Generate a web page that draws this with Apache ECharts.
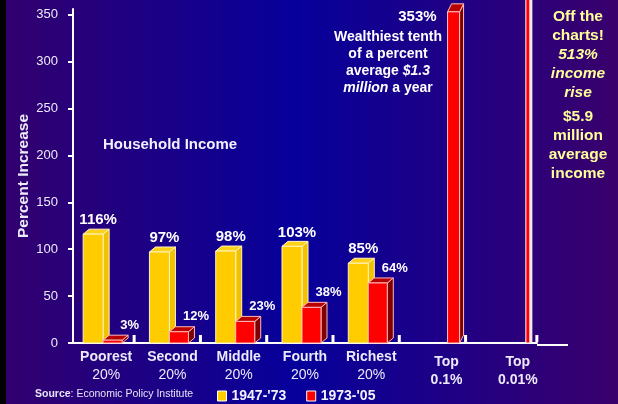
<!DOCTYPE html>
<html><head><meta charset="utf-8">
<script src="https://cdn.jsdelivr.net/npm/echarts@6/dist/echarts.min.js"></script>
<style>html,body{margin:0;padding:0;background:#000;}#c{width:618px;height:404px;}</style>
</head><body><div id="c"></div>
<script>
// ---- data ----
const categories = ['Poorest', 'Second', 'Middle', 'Fourth', 'Richest', 'Top', 'Top'];
const subLabels = ['20%', '20%', '20%', '20%', '20%', '0.1%', '0.01%'];
const seriesNames = ["1947-'73", "1973-'05"];
const values1947 = [116, 97, 98, 103, 85, null, null];
const values1973 = [3, 12, 23, 38, 64, 353, 513];
const yTicks = [0, 50, 100, 150, 200, 250, 300, 350];

const FONT = '"Liberation Sans", Arial, Helvetica, sans-serif';
const TXT = '#ECEAFA';
const chart = echarts.init(document.getElementById('c'), null, {renderer: 'canvas'});

function box3d(x0, x1, yTop, yBot, dx, dy, col, stroke, noTop) {
  const els = [];
  els.push({type: 'polygon', shape: {points: [[x1, yTop], [x1 + dx, yTop - dy], [x1 + dx, yBot - dy], [x1, yBot]]},
    style: {fill: col.side, stroke: stroke, lineWidth: 1}});
  if (!noTop) els.push({type: 'polygon', shape: {points: [[x0, yTop], [x0 + dx, yTop - dy], [x1 + dx, yTop - dy], [x1, yTop]]},
    style: {fill: col.top, stroke: stroke, lineWidth: 1}});
  els.push({type: 'rect', shape: {x: x0, y: yTop, width: x1 - x0, height: yBot - yTop},
    style: {fill: col.front, stroke: stroke, lineWidth: 1}});
  return els;
}
const YEL = {front: '#FFCC00', top: '#FFD21A', side: '#F2C200'};
const RED = {front: '#FF0000', top: '#B80000', side: '#7E0000'};

function renderYellow(params, api) {
  const v = api.value(1);
  if (v == null || isNaN(v)) return null;
  const i = params.dataIndex;
  const base = api.coord([i, 0]);
  const top = api.coord([i, v]);
  const cx = base[0];
  const x0 = cx - 23, x1 = cx - 3;
  const els = box3d(x0, x1, top[1], base[1], 6, 5, YEL, '#FFF4C0');
  els.push({type: 'text', style: {text: v + '%', x: (x0 + x1) / 2 + 5, y: top[1] - 14,
    fill: '#FFFFFF', font: 'bold 15px ' + FONT, align: 'center', verticalAlign: 'middle'}});
  return {type: 'group', children: els};
}
function renderRed(params, api) {
  const v = api.value(1);
  const i = params.dataIndex;
  const base = api.coord([i, 0]);
  const cx = base[0];
  const els = [];
  // small separator tick on the floor
  const tx = (i === categories.length - 1) ? cx + 33 : cx + 28;
  els.push({type: 'rect', shape: {x: tx - 1.5, y: base[1] - 8, width: 3, height: 7}, style: {fill: '#FFFFFF'}});
  if (v == null || isNaN(v)) return {type: 'group', children: els};
  const top = api.coord([i, v]);
  if (i === 5) {
    const x0 = cx + 10, x1 = cx + 22;
    els.push(...box3d(x0, x1, top[1], base[1], 4, 8, RED, '#FFC0C0'));
    els.push({type: 'text', style: {text: v + '%', x: x0 - 11, y: top[1] + 5,
      fill: '#FFFFFF', font: 'bold 15px ' + FONT, align: 'right', verticalAlign: 'middle'}});
  } else if (i === 6) {
    const x0 = cx + 22, x1 = cx + 26;
    els.push(...box3d(x0, x1, top[1], base[1], 2, 0, {front: '#FF0000', top: '#FFFFFF', side: '#FFD0D0'}, '#FFFFFF', true));
  } else {
    const x0 = cx - 3, x1 = cx + 16;
    els.push(...box3d(x0, x1, top[1], base[1], 6, 5, RED, '#FFB8B8'));
    els.push({type: 'text', style: {text: v + '%', x: (x0 + x1) / 2 + 17, y: top[1] - 15,
      fill: '#FFFFFF', font: 'bold 13px ' + FONT, align: 'center', verticalAlign: 'middle'}});
  }
  return {type: 'group', children: els};
}

const option = {
  animation: false,
  backgroundColor: {type: 'linear', x: 0, y: 0, x2: 1, y2: 0,
    colorStops: [{offset: 0, color: '#33006E'}, {offset: 0.48, color: '#06009B'}, {offset: 1, color: '#3A006C'}]},
  textStyle: {fontFamily: FONT},
  grid: {left: 73, right: 81, top: 9, bottom: 61, containLabel: false},
  legend: {
    left: 217, top: 389, padding: 0, itemGap: 20, itemWidth: 9, itemHeight: 10, icon: 'rect',
    itemStyle: {borderColor: '#FFFFFF', borderWidth: 1},
    textStyle: {color: '#F2F0FF', fontSize: 14, fontWeight: 'bold', fontFamily: FONT, padding: [0, 0, 0, 0]},
    data: seriesNames
  },
  xAxis: {
    type: 'category', data: categories, boundaryGap: true, offset: 2,
    axisLine: {show: true, lineStyle: {color: '#FFFFFF', width: 2}},
    axisTick: {show: false},
    axisLabel: {
      interval: 0, margin: 3, color: TXT,
      formatter: function (value, index) {
        if (index < 5) return '{b|' + value + '}\n{n|' + subLabels[index] + '}';
        return '{sp| }\n{t' + index + '|' + value + '}\n{t' + index + '|' + subLabels[index] + '}';
      },
      rich: {
        b: {fontSize: 14, fontWeight: 'bold', lineHeight: 18, color: TXT, fontFamily: FONT},
        n: {fontSize: 14, fontWeight: 'normal', lineHeight: 18, color: TXT, fontFamily: FONT},
        sp: {fontSize: 2, lineHeight: 5},
        t5: {fontSize: 14, fontWeight: 'bold', lineHeight: 18, color: TXT, fontFamily: FONT, padding: [0, 0, 0, 18]},
        t6: {fontSize: 14, fontWeight: 'bold', lineHeight: 18, color: TXT, fontFamily: FONT, padding: [0, 0, 0, 28]}
      }
    }
  },
  yAxis: {
    type: 'value', min: 0, max: 356, interval: 50,
    name: 'Percent Increase', nameLocation: 'middle', nameGap: 41, nameRotate: 90, nameMoveOverlap: false,
    nameTextStyle: {color: '#ECEAFA', fontSize: 15.5, fontWeight: 'bold', fontFamily: FONT},
    axisLine: {show: true, lineStyle: {color: '#FFFFFF', width: 2}},
    axisTick: {show: true, length: 5, lineStyle: {color: '#FFFFFF', width: 2}, customValues: yTicks},
    axisLabel: {color: TXT, fontSize: 13, margin: 15, customValues: yTicks},
    splitLine: {show: false}
  },
  graphic: [
    {type: 'rect', left: 0, top: 0, shape: {width: 6, height: 404}, style: {fill: '#000000'}, z: 100},
    {type: 'line', shape: {x1: 537, y1: 345, x2: 568, y2: 345}, style: {stroke: '#FFFFFF', lineWidth: 2}},
    {type: 'text', x: 103, y: 145, style: {text: 'Household Income', fill: '#F2F0FF',
      font: 'bold 15px ' + FONT, verticalAlign: 'middle', align: 'left'}},
    {type: 'text', x: 388, y: 28.5, style: {
      text: '{b|Wealthiest tenth}\n{b|of a percent}\n{b|average }{bi|$1.3}\n{bi|million}{b| a year}',
      align: 'center', verticalAlign: 'top', fill: '#FFFFFF',
      rich: {
        b: {fill: '#FFFFFF', font: 'bold 14px ' + FONT, lineHeight: 17},
        bi: {fill: '#FFFFFF', font: 'italic bold 14px ' + FONT, lineHeight: 17}
      }}},
    {type: 'text', x: 578, y: 7.5, style: {
      text: '{y|Off the}\n{y|charts!}\n{yi|' + values1973[6] + '%}\n{yi|income}\n{yi|rise}',
      align: 'center', verticalAlign: 'top',
      rich: {
        y: {fill: '#FFFF99', font: 'bold 15.5px ' + FONT, lineHeight: 19},
        yi: {fill: '#FFFF99', font: 'italic bold 15.5px ' + FONT, lineHeight: 19}
      }}},
    {type: 'text', x: 578, y: 107.5, style: {
      text: '{y|$5.9}\n{y|million}\n{y|average}\n{y|income}',
      align: 'center', verticalAlign: 'top',
      rich: {
        y: {fill: '#FFFF99', font: 'bold 15.5px ' + FONT, lineHeight: 19}
      }}},
    {type: 'text', x: 35, y: 394, style: {
      text: '{sb|Source}{s|: Economic Policy Institute}', verticalAlign: 'middle', align: 'left',
      rich: {
        sb: {fill: '#E6E4F6', font: 'bold 10.5px ' + FONT},
        s: {fill: '#E6E4F6', font: '10.5px ' + FONT}
      }}}
  ],
  series: [
    {name: seriesNames[0], type: 'custom', coordinateSystem: 'cartesian2d', clip: false,
      itemStyle: {color: '#FFCC00'}, encode: {x: 0, y: 1},
      renderItem: renderYellow,
      data: values1947.map((v, i) => [i, v == null ? NaN : v])},
    {name: seriesNames[1], type: 'custom', coordinateSystem: 'cartesian2d', clip: false,
      itemStyle: {color: '#FF0000'}, encode: {x: 0, y: 1},
      renderItem: renderRed,
      data: values1973.map((v, i) => [i, v])}
  ]
};
chart.setOption(option);
</script></body></html>
